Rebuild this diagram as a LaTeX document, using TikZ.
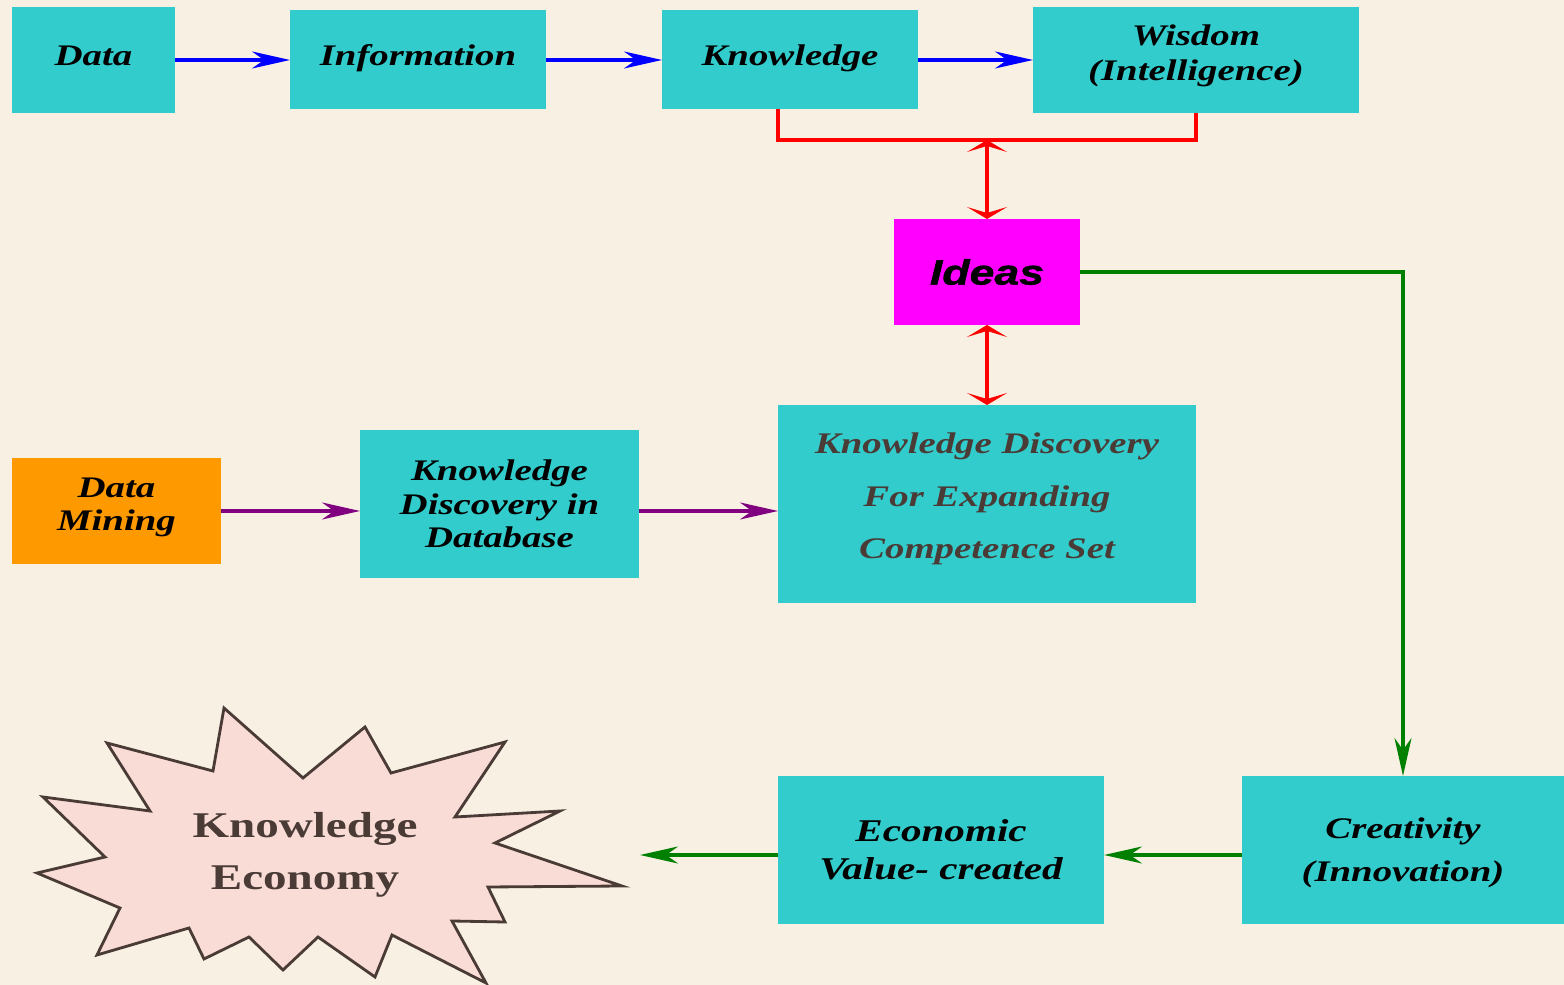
\documentclass[tikz,border=0pt]{standalone}
\usepackage{fontspec}
\usetikzlibrary{positioning,arrows.meta}
\newfontfamily\boxfont{Liberation Serif}[FakeStretch=1.3]
\newfontfamily\ideafont{Liberation Sans}[FakeStretch=1.27,FakeBold=1.2]
\definecolor{bgcream}{HTML}{F8F0E3}
\definecolor{boxteal}{HTML}{33CCCC}
\definecolor{minorange}{HTML}{FF9900}
\definecolor{ideamagenta}{HTML}{FF00FF}
\definecolor{darkbrown}{HTML}{4A3B36}
\definecolor{starpink}{HTML}{F9DCD5}
\definecolor{arrowgreen}{HTML}{008000}
\definecolor{arrowpurple}{HTML}{800080}
\tikzset{
box/.style={fill=boxteal, inner sep=0pt, outer sep=0pt, align=center, minimum width=2.56cm, minimum height=0.99cm,
  font=\boxfont\bfseries\itshape\fontsize{8.5}{10}\selectfont}, % cyan boxes
oneline/.style={text height=0.2cm, text depth=0.08cm}, % keeps one-line texts a bit high
flowarrow/.style={-{Stealth[length=0.38cm,width=0.17cm,inset=0.12cm]}, line width=0.9pt}, % long thin heads
linkarrow/.style={{Stealth[length=0.12cm,width=0.40cm,inset=0.06cm]}-{Stealth[length=0.12cm,width=0.40cm,inset=0.06cm]}, draw=red, line width=1.1pt},
}

\begin{document}
\begin{tikzpicture}
\fill[bgcream] (0,0) rectangle (15.64,-9.85);
\useasboundingbox (0,0) rectangle (15.64,-9.85);

% top row
\node[box, oneline, minimum width=1.63cm, minimum height=1.06cm] (data) at (0.935,-0.60) {Data};
\node[box, oneline, right=1.15cm of data] (info) {Information};
\node[box, oneline, right=1.16cm of info] (know) {Knowledge};
\node[box, right=1.15cm of know, minimum width=3.26cm, minimum height=1.06cm, text depth=4.2pt] (wisdom) {Wisdom\\(Intelligence)};

% middle
\node[fill=ideamagenta, minimum width=1.86cm, minimum height=1.06cm, inner sep=0pt, outer sep=0pt,
  font=\ideafont\bfseries\itshape\fontsize{10}{12}\selectfont] (ideas) at (9.87,-2.72) {Ideas};
\node[box, below=0.80cm of ideas, minimum width=4.18cm, minimum height=1.98cm, text=darkbrown, text depth=4.7pt,
  font=\boxfont\bfseries\itshape\fontsize{8.5}{15}\selectfont] (kde) {Knowledge Discovery\\For Expanding\\Competence Set};
\node[box, left=1.39cm of kde, minimum width=2.79cm, minimum height=1.48cm,
  font=\boxfont\bfseries\itshape\fontsize{8.5}{9.6}\selectfont] (kdd) {Knowledge\\Discovery in\\Database};
\node[box, fill=minorange, minimum width=2.09cm, minimum height=1.06cm, text depth=4.1pt,
  font=\boxfont\bfseries\itshape\fontsize{8.5}{9.4}\selectfont] (mining) at (1.165,-5.11) {Data\\Mining};

% bottom row
\node[box, minimum width=3.26cm, minimum height=1.48cm,
  font=\boxfont\bfseries\itshape\fontsize{9}{10.8}\selectfont] (econ) at (9.41,-8.50) {Economic\\Value- created};
\node[box, right=1.38cm of econ, minimum width=3.22cm, minimum height=1.48cm, text depth=-3pt,
  font=\boxfont\bfseries\itshape\fontsize{8.5}{12.2}\selectfont] (creat) {Creativity\\(Innovation)};

% the star
\draw[darkbrown, fill=starpink, line width=0.8pt, line join=miter]
  (2.24,-7.08) -- (3.03,-7.78) -- (3.65,-7.27) -- (3.91,-7.73) -- (5.05,-7.42) -- (4.55,-8.17)
  -- (5.60,-8.11) -- (4.95,-8.43) -- (6.22,-8.86) -- (4.88,-8.87) -- (5.05,-9.22) -- (4.52,-9.21)
  -- (4.86,-9.83) -- (3.92,-9.35) -- (3.75,-9.77) -- (3.18,-9.37) -- (2.83,-9.70) -- (2.49,-9.37)
  -- (2.04,-9.59) -- (1.89,-9.28) -- (0.97,-9.55) -- (1.20,-9.08) -- (0.37,-8.73) -- (1.05,-8.57)
  -- (0.43,-7.97) -- (1.50,-8.11) -- (1.07,-7.43) -- (2.13,-7.71) -- cycle;
\node[text=darkbrown, align=center, font=\boxfont\bfseries\fontsize{10.3}{14.8}\selectfont] (keco) at (3.05,-8.55) {Knowledge\\Economy};

\coordinate (brk) at (9.87,-1.40);
\coordinate (ketip) at (6.40,-8.55);

% connectors
\draw[flowarrow, blue] (data.east) -- (info.west);
\draw[flowarrow, blue] (info.east) -- (know.west);
\draw[flowarrow, blue] (know.east) -- (wisdom.west |- know.east);

\draw[red, line width=1.1pt] (kde.west |- know.south) |- (brk) -| (wisdom.south);
\draw[linkarrow] (brk) -- (ideas.north);
\draw[linkarrow] (ideas.south) -- (kde.north);

\draw[flowarrow, arrowpurple] (mining.east) -- (kdd.west |- mining.east);
\draw[flowarrow, arrowpurple] (kdd.east |- mining.east) -- (kde.west |- mining.east);

\draw[flowarrow, arrowgreen] (ideas.east) -| (creat.north);
\draw[flowarrow, arrowgreen] (creat.west |- ketip) -- (econ.east |- ketip);
\draw[flowarrow, arrowgreen] (econ.west |- ketip) -- (ketip);

\end{tikzpicture}
\end{document}
